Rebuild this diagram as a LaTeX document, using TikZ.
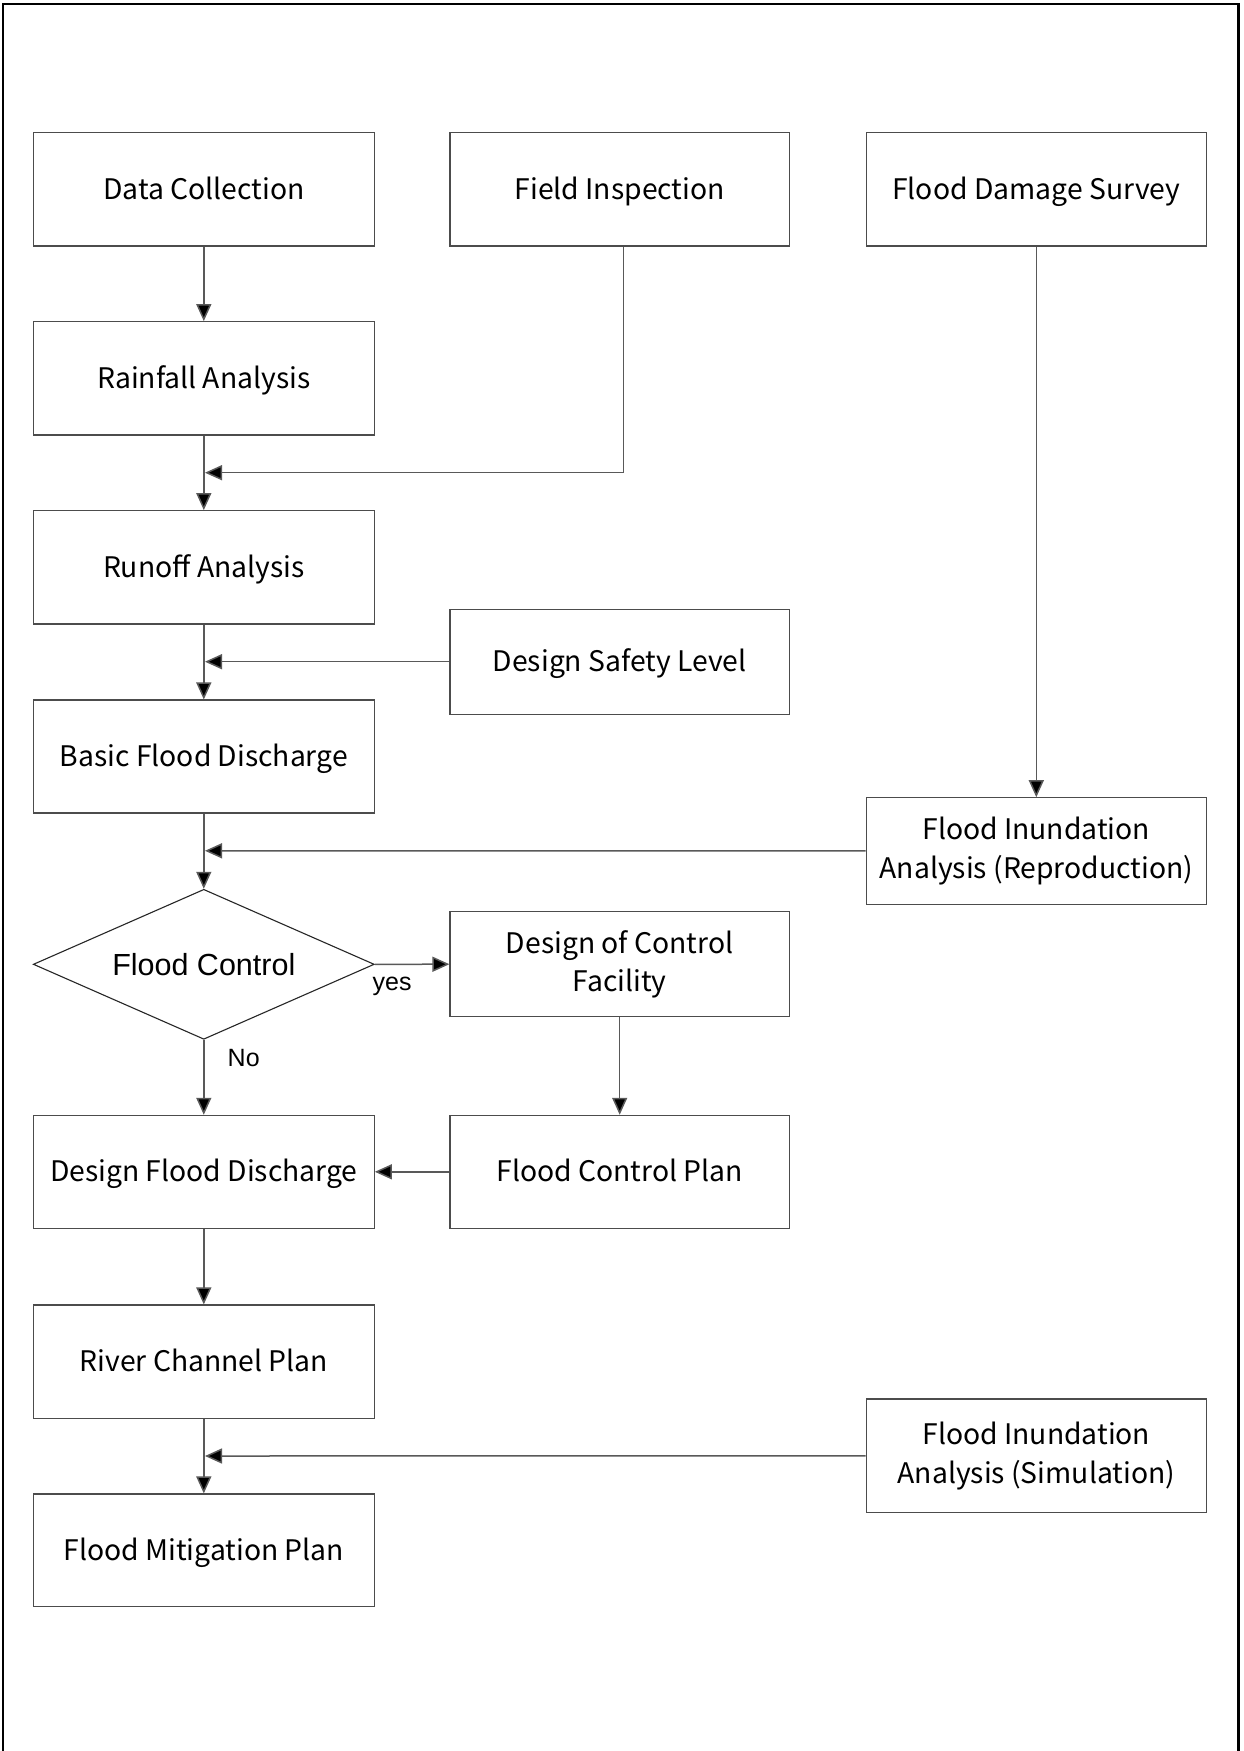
\documentclass[tikz,border=0pt]{standalone}
\usepackage{fontspec}
\newfontfamily\jpfont{Noto Sans CJK JP}
\newfontfamily\arialfont{Liberation Sans}
\usetikzlibrary{arrows.meta,shapes.geometric}
\definecolor{boxgray}{gray}{0.3}
\definecolor{linegray}{gray}{0.35}
\tikzset{
  box/.style={draw=boxgray, line width=1.1pt, minimum width=341pt, minimum height=113.3pt,
    inner sep=0pt, align=center, font=\jpfont\fontsize{28.3}{38.7}\selectfont},
  one/.style={text height=26pt, text depth=6pt},
  decide/.style={draw=black!85, line width=1.1pt, shape=diamond, shape aspect=2.27,
    minimum width=341pt, minimum height=150pt, inner sep=0pt,
    font=\arialfont\fontsize{30.5}{36}\selectfont},
  conn/.style={draw=linegray, line width=1.5pt, -{Triangle[length=17pt,width=15pt,fill=black]}},
  lbl/.style={inner sep=0pt, font=\arialfont\fontsize{25}{30}\selectfont, anchor=base west}
}
\begin{document}
\begin{tikzpicture}[x=1pt,y=-1pt]
\useasboundingbox (0,0) rectangle (1244,1751);
\fill[white] (0,0) rectangle (1244,1751);
\draw[line width=2.2pt] (3,1751) -- (3,4) -- (1238.5,4) -- (1238.5,1751);

% column 1
\node[box, one] (dc) at (203.8,189.3) {Data Collection};
\node[box, one] (ra) at (203.8,378.3) {Rainfall Analysis};
\node[box, one] (ro) at (203.8,567.3) {Runoff Analysis};
\node[box, one, minimum height=113pt] (bfd) at (203.8,756.5) {Basic Flood Discharge};
\node[decide] (fc) at (203.8,964.3) {Flood Control};
\node[box, one, minimum height=113pt] (dfd) at (203.8,1171.8) {Design Flood Discharge};
\node[box, one] (rcp) at (203.8,1361.6) {River Channel Plan};
\node[box, one, minimum height=112.7pt] (fmp) at (203.8,1550.3) {Flood Mitigation Plan};

% column 2
\node[box, one, minimum width=339.5pt] (fi) at (619.7,189.3) {Field Inspection};
\node[box, one, minimum width=339.5pt, minimum height=105.3pt] (dsl) at (619.7,661.7) {Design Safety Level};
\node[box, minimum width=339.5pt, minimum height=105pt] (dcf) at (619.7,964.2) {Design of Control\\Facility};
\node[box, one, minimum width=339.5pt, minimum height=113pt] (fcp) at (619.7,1171.8) {Flood Control Plan};

% column 3
\node[box, one, minimum width=340.5pt] (fds) at (1036.3,189.3) {Flood Damage Survey};
\node[box, minimum width=340.5pt, minimum height=106.3pt] (fia) at (1036.3,850.9) {Flood Inundation\\Analysis (Reproduction)};
\node[box, minimum width=340.5pt, minimum height=113.7pt] (fis) at (1036.3,1455.8) {Flood Inundation\\Analysis (Simulation)};

% junction points on the main line
\coordinate (j1) at (205,472.7);
\coordinate (j2) at (205,661.7);
\coordinate (j3) at (205,850.8);
\coordinate (j4) at (205,1456);
\coordinate (fiout) at ([xshift=3.7pt]fi.south);

% connectors
\draw[conn] (dc) -- (ra);
\draw[conn] (ra) -- (ro);
\draw[conn] (ro) -- (bfd);
\draw[conn] (bfd) -- (fc.north);
\draw[conn] (fc.south) -- (dfd);
\draw[conn] (dfd) -- (rcp);
\draw[conn] (rcp) -- (fmp);
\draw[conn] (fiout) |- (j1);
\draw[conn] (dsl.west) -- (j2);
\draw[conn] (fds) -- (fia);
\draw[conn] (fia.west) -- (j3);
\draw[conn] (fis.west) -- (j4);
\draw[conn] (fc.east) -- (dcf.west);
\draw[conn] (dcf) -- (fcp);
\draw[conn] (fcp.west) -- (dfd.east);

\node[lbl] (yes) at (372.5,990) {yes};
\node[lbl] (no) at (227.5,1066.7) {No};
\end{tikzpicture}
\end{document}
